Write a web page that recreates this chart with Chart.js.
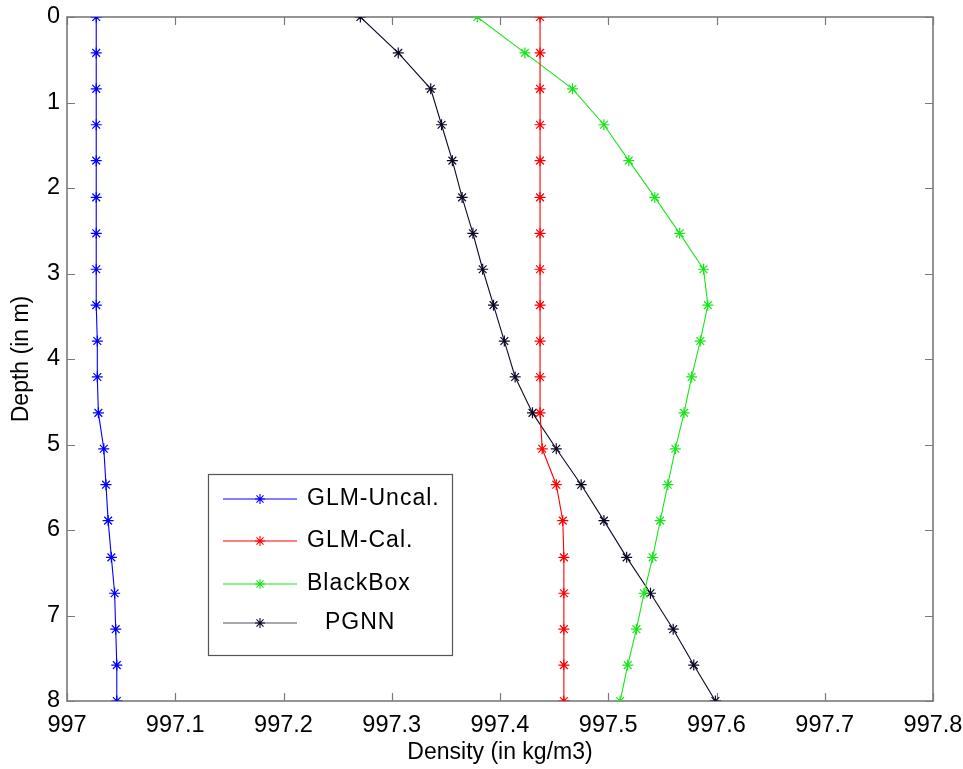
<!DOCTYPE html>
<html>
<head>
<meta charset="utf-8">
<title>Density profile</title>
<script src="https://cdn.jsdelivr.net/npm/chart.js@4.4.1/dist/chart.umd.min.js"></script>
<style>
  html, body { margin: 0; padding: 0; background: #fff; }
  #wrap { width: 963px; height: 769px; }
</style>
</head>
<body>
<div id="wrap"><canvas id="densityChart" width="963" height="769"></canvas></div>
<script>
// depth of each sample (m)
const depths = [0, 0.42, 0.84, 1.26, 1.68, 2.11, 2.53, 2.95, 3.37, 3.79,
                4.21, 4.63, 5.05, 5.47, 5.89, 6.32, 6.74, 7.16, 7.58, 8];

// density per model (kg/m3)
const glmUncal = [997.027, 997.027, 997.027, 997.027, 997.027, 997.027, 997.027, 997.027, 997.027, 997.028,
                  997.028, 997.029, 997.034, 997.036, 997.038, 997.041, 997.044, 997.045, 997.046, 997.046];
const glmCal   = [997.437, 997.437, 997.437, 997.437, 997.437, 997.437, 997.437, 997.437, 997.437, 997.437,
                  997.437, 997.437, 997.439, 997.452, 997.458, 997.459, 997.459, 997.459, 997.459, 997.459];
const blackBox = [997.379, 997.423, 997.467, 997.496, 997.519, 997.543, 997.566, 997.588, 997.592, 997.585,
                  997.577, 997.570, 997.562, 997.555, 997.548, 997.541, 997.533, 997.526, 997.518, 997.511];
const pgnn     = [997.271, 997.306, 997.336, 997.346, 997.356, 997.365, 997.375, 997.384, 997.394, 997.404,
                  997.414, 997.430, 997.452, 997.475, 997.496, 997.517, 997.539, 997.560, 997.579, 997.599];

const seriesNames = ["GLM-Uncal.", "GLM-Cal.", "BlackBox", "PGNN"];

const xTickValues = [997, 997.1, 997.2, 997.3, 997.4, 997.5, 997.6, 997.7, 997.8];
const yTickValues = [0, 1, 2, 3, 4, 5, 6, 7, 8];

const FONT = "'Liberation Sans', Arial, sans-serif";
const AXIS_GREY = "#7a7a7a";

function toPoints(values) {
    return values.map((v, i) => ({ x: v, y: depths[i] }));
}

function makeSet(label, values, color) {
    return {
        label: label,
        data: toPoints(values),
        showLine: true,
        borderColor: color,
        backgroundColor: color,
        borderWidth: 1.1,
        pointStyle: "star",
        pointRadius: 5.5,
        pointBorderWidth: 1.2,
        pointBorderColor: color,
        pointHoverRadius: 5.5,
        tension: 0
    };
}

// box + inward ticks on all four sides (matlab look)
const boxPlugin = {
    id: "boxTicks",
    beforeDatasetsDraw(chart) {
        const { ctx, chartArea: a, scales } = chart;
        const len = 8;
        ctx.save();
        ctx.strokeStyle = AXIS_GREY;
        ctx.lineWidth = 1.6;
        ctx.strokeRect(a.left, a.top, a.right - a.left, a.bottom - a.top);
        ctx.lineWidth = 1.2;
        ctx.beginPath();
        xTickValues.forEach(v => {
            const px = Math.round(scales.x.getPixelForValue(v)) + 0.5;
            ctx.moveTo(px, a.bottom); ctx.lineTo(px, a.bottom - len);
            ctx.moveTo(px, a.top); ctx.lineTo(px, a.top + len);
        });
        yTickValues.forEach(v => {
            const py = Math.round(scales.y.getPixelForValue(v)) + 0.5;
            ctx.moveTo(a.left, py); ctx.lineTo(a.left + len, py);
            ctx.moveTo(a.right, py); ctx.lineTo(a.right - len, py);
        });
        ctx.stroke();
        ctx.restore();
    }
};

// legend boxed inside the plot like in the figure
const legendPlugin = {
    id: "insideLegend",
    afterDatasetsDraw(chart) {
        const { ctx } = chart;
        const box = { x: 208, y: 474, w: 244, h: 181 };
        const rows = [499, 541, 584, 623];
        const lineColors = ["#0000ff", "#ff0000", "#19e619", "#50505e"];
        ctx.save();
        ctx.fillStyle = "#fff";
        ctx.fillRect(box.x, box.y, box.w, box.h);
        ctx.strokeStyle = "#555";
        ctx.lineWidth = 1.2;
        ctx.strokeRect(box.x + 0.5, box.y + 0.5, box.w, box.h);
        chart.data.datasets.forEach((ds, i) => {
            const y = rows[i];
            ctx.strokeStyle = lineColors[i];
            ctx.lineWidth = 1.1;
            ctx.beginPath();
            ctx.moveTo(223, y); ctx.lineTo(297, y);
            ctx.stroke();
            ctx.strokeStyle = ds.borderColor;
            Chart.helpers.drawPoint(ctx, { pointStyle: "star", radius: 5, borderWidth: 1.2 }, 260, y);
            ctx.fillStyle = "#000";
            ctx.font = "23px " + FONT;
            ctx.letterSpacing = "1px";
            ctx.textBaseline = "middle";
            ctx.fillText(ds.label, i === 3 ? 325 : 307, y);
        });
        ctx.restore();
    }
};

// keep the plot box where the figure has it, labels may overhang
function noLabelPadding(s) {
    s.paddingLeft = 0;
    s.paddingRight = 0;
    s.paddingTop = 0;
    s.paddingBottom = 0;
}

const ctx = document.getElementById("densityChart").getContext("2d");
const densityChart = new Chart(ctx, {
    type: "scatter",
    data: {
        datasets: [
            makeSet(seriesNames[0], glmUncal, "#0000ff"),
            makeSet(seriesNames[1], glmCal, "#ff0000"),
            makeSet(seriesNames[2], blackBox, "#19e619"),
            makeSet(seriesNames[3], pgnn, "#0a0a26")
        ]
    },
    options: {
        responsive: false,
        animation: false,
        layout: { padding: { left: 0, top: 17, right: 30, bottom: 0 } },
        plugins: {
            legend: { display: false },
            tooltip: { enabled: false }
        },
        scales: {
            x: {
                type: "linear",
                min: 997,
                max: 997.8,
                afterBuildTicks: s => { s.ticks = xTickValues.map(v => ({ value: v })); },
                afterFit: s => { s.height = 68; noLabelPadding(s); },
                grid: { display: false, drawTicks: false },
                border: { display: false },
                ticks: {
                    color: "#000",
                    padding: 10,
                    maxRotation: 0,
                    font: { family: FONT, size: 23.5 },
                    callback: v => String(Number(v.toFixed(1)))
                },
                title: {
                    display: true,
                    text: "Density (in kg/m3)",
                    color: "#000",
                    padding: { top: 0, bottom: 3 },
                    font: { family: FONT, size: 23 }
                }
            },
            y: {
                type: "linear",
                reverse: true,
                min: 0,
                max: 8,
                afterBuildTicks: s => { s.ticks = yTickValues.map(v => ({ value: v })); },
                afterFit: s => { s.width = 67; noLabelPadding(s); },
                grid: { display: false, drawTicks: false },
                border: { display: false },
                ticks: {
                    color: "#000",
                    padding: 7,
                    font: { family: FONT, size: 23.5 }
                },
                title: {
                    display: true,
                    text: "Depth (in m)",
                    color: "#000",
                    padding: { top: 8, bottom: 0 },
                    font: { family: FONT, size: 23 }
                }
            }
        }
    },
    plugins: [boxPlugin, legendPlugin]
});
console.log("chart ready", densityChart.chartArea);
</script>
</body>
</html>
